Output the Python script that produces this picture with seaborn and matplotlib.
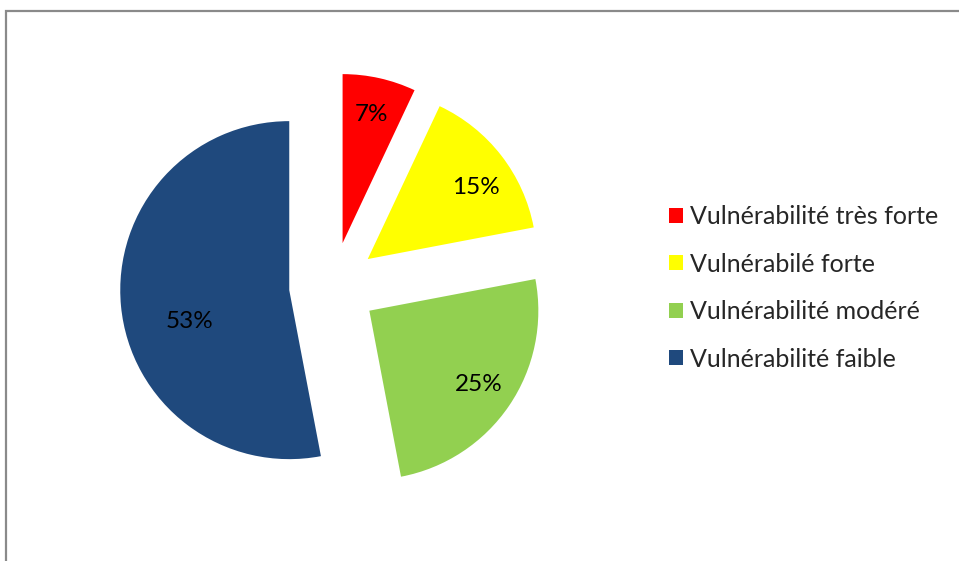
import matplotlib
matplotlib.use("Agg")
import matplotlib.pyplot as plt
import matplotlib.patches as mpatches
import seaborn as sns

categories = ["Vulnérabilité très forte", "Vulnérabilé forte",
              "Vulnérabilité modéré", "Vulnérabilité faible"]
values = [7, 15, 25, 53]
colors = ["#FF0000", "#FFFF00", "#92D050", "#1F497D"]

sns.set_theme(style="white")
plt.rcParams["font.family"] = ["Lato", "DejaVu Sans"]

W, H = 959, 561
fig = plt.figure(figsize=(W / 100, H / 100), dpi=100)
ax = fig.add_axes([0, 0, 1, 1])

R = 169.0          # pie radius in pixels
cx, cy = 333.0, 286.0  # pie centre in pixels (from top-left)

wedges, texts, autotexts = ax.pie(
    values, colors=colors, startangle=90, counterclock=False,
    explode=[0.26] * len(values), radius=1.0,
    autopct=lambda p: f"{p:.0f}%", pctdistance=0.78,
    wedgeprops=dict(linewidth=0),
    textprops=dict(fontsize=17.5, color="black"),
)
# Excel-style placement of some slice labels
autotexts[1].set_position((0.846, 0.58))
autotexts[3].set_position((-0.85, -0.21))
for t in autotexts:
    t.set_ha("center")
    t.set_va("center")

ax.set_aspect("auto")
ax.set_xlim(-cx / R, (W - cx) / R)
ax.set_ylim(-(H - cy) / R, cy / R)
ax.axis("off")

leg = fig.legend(
    wedges, categories, loc="upper left",
    bbox_to_anchor=(659 / W, 1 - 195 / H), frameon=False,
    fontsize=18, handlelength=0.56, handleheight=0.56,
    handletextpad=0.3, labelspacing=0.98, borderaxespad=0,
)

# chart-area border (extends off the right and bottom edges)
border = mpatches.Rectangle((5.5 / W, -0.1), 1.2, (H - 10.5) / H + 0.1,
                            transform=fig.transFigure, fill=False,
                            edgecolor="#8a8a8a", linewidth=1.6)
fig.patches.append(border)

fig.savefig("out.png", dpi=100)
